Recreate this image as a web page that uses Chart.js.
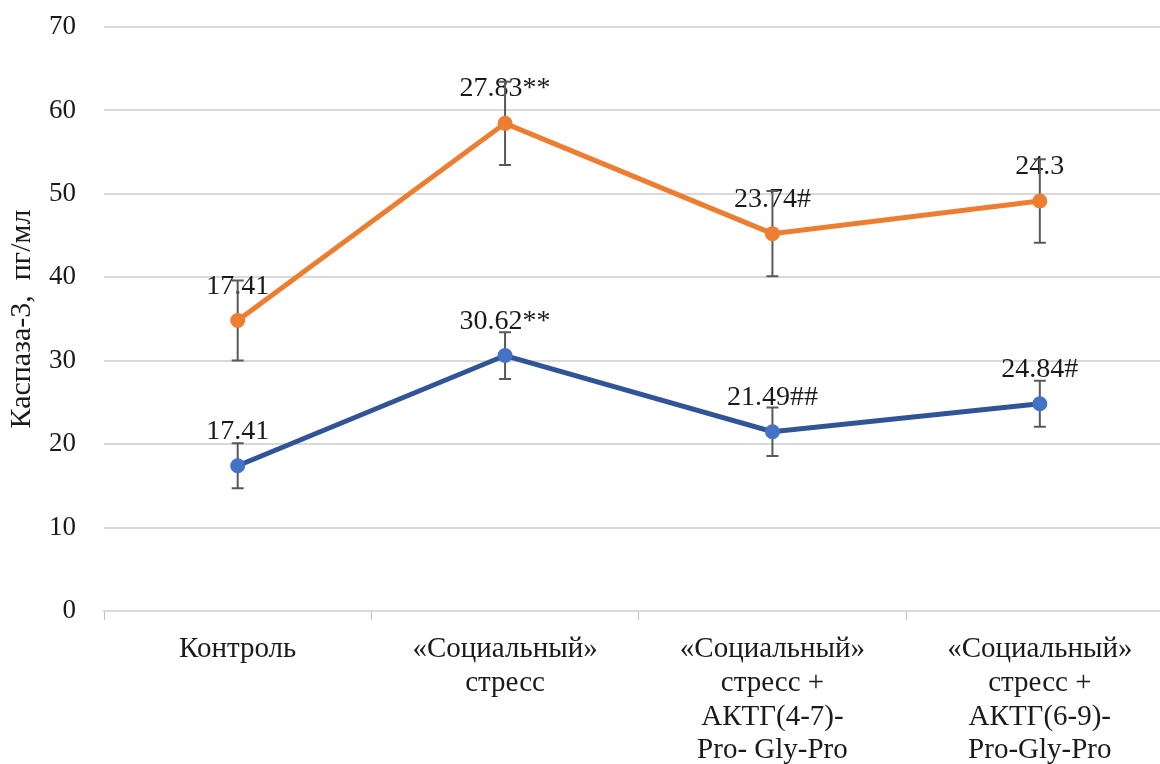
<!DOCTYPE html>
<html>
<head>
<meta charset="utf-8">
<script src="https://cdn.jsdelivr.net/npm/chart.js@4/dist/chart.umd.min.js"></script>
<style>
  html, body { margin: 0; padding: 0; background: #fff; overflow: hidden; }
  #wrap { width: 1160px; height: 764px; overflow: hidden; }
</style>
</head>
<body>
<div id="wrap"><canvas id="c" width="1181" height="764"></canvas></div>
<script>
const categories = [
  ["Контроль"],
  ["«Социальный»", "стресс"],
  ["«Социальный»", "стресс +", "АКТГ(4-7)-", "Pro- Gly-Pro"],
  ["«Социальный»", "стресс +", "АКТГ(6-9)-", "Pro-Gly-Pro"]
];
const blueValues = [17.41, 30.62, 21.49, 24.84];
const blueErrors = [2.7, 2.8, 2.9, 2.75];
const blueMarks = ["", "**", "##", "#"];
const orangeValues = [17.41, 27.83, 23.74, 24.3];
const orangeErrors = [4.8, 5.0, 5.1, 5.0];
const orangeMarks = ["", "**", "#", ""];
const yTicks = [0, 10, 20, 30, 40, 50, 60, 70];
const yTitle = "Каспаза-3,  пг/мл";

const FONT = "'Liberation Serif', 'Times New Roman', serif";
const TEXT = "#1a1a1a";

const overlayPlugin = {
  id: 'overlay',
  beforeDatasetsDraw(chart) {
    const ctx = chart.ctx;
    const ys = chart.scales.y;
    ctx.save();
    ctx.font = "28px " + FONT;
    ctx.fillStyle = TEXT;
    ctx.textAlign = "center";
    ctx.textBaseline = "alphabetic";
    chart.data.datasets.forEach((ds, di) => {
      const meta = chart.getDatasetMeta(di);
      meta.data.forEach((pt, i) => {
        ctx.fillText(String(ds.data[i]) + ds.marks[i], pt.x, pt.y - 27);
      });
    });
    ctx.restore();
    ctx.save();
    ctx.strokeStyle = "#595959";
    ctx.lineWidth = 2;
    chart.data.datasets.forEach((ds, di) => {
      const meta = chart.getDatasetMeta(di);
      meta.data.forEach((pt, i) => {
        const d = ys.getPixelForValue(0) - ys.getPixelForValue(ds.errors[i]);
        const top = pt.y - d, bot = pt.y + d;
        ctx.beginPath();
        ctx.moveTo(pt.x, top); ctx.lineTo(pt.x, bot);
        ctx.moveTo(pt.x - 6, top); ctx.lineTo(pt.x + 6, top);
        ctx.moveTo(pt.x - 6, bot); ctx.lineTo(pt.x + 6, bot);
        ctx.stroke();
      });
    });
    ctx.restore();
  }
};

new Chart(document.getElementById('c'), {
  type: 'line',
  data: {
    labels: categories,
    datasets: [
      {
        data: blueValues, errors: blueErrors, marks: blueMarks,
        borderColor: '#2F5597', backgroundColor: '#4472C4',
        pointBackgroundColor: '#4472C4', pointBorderWidth: 0,
        pointRadius: 7.5, borderWidth: 5, fill: false, tension: 0
      },
      {
        data: orangeValues, errors: orangeErrors, marks: orangeMarks,
        borderColor: '#ED7D31', backgroundColor: '#ED7D31',
        pointBackgroundColor: '#ED7D31', pointBorderWidth: 0,
        pointRadius: 7.5, borderWidth: 5, fill: false, tension: 0
      }
    ]
  },
  options: {
    responsive: false,
    animation: false,
    events: [],
    layout: { padding: { top: 27, right: 0, bottom: 0, left: 0 } },
    plugins: { legend: { display: false }, tooltip: { enabled: false } },
    scales: {
      x: {
        offset: true,
        grid: { offset: true, drawOnChartArea: false, drawTicks: true, tickLength: 9, color: '#BFBFBF', lineWidth: 1 },
        border: { display: true, color: '#D9D9D9', width: 2 },
        ticks: { font: { family: FONT, size: 29, lineHeight: 1.16 }, color: TEXT, padding: 13, maxRotation: 0, autoSkip: false },
        afterFit(s) { s.height = 153; s.paddingLeft = 0; s.paddingRight = 0; }
      },
      y: {
        stacked: true,
        min: 0, max: 70,
        afterBuildTicks(s) { s.ticks = yTicks.map(v => ({ value: v })); },
        grid: { drawTicks: false, color: '#D9D9D9', lineWidth: 2 },
        border: { display: false },
        ticks: { font: { family: FONT, size: 27 }, color: TEXT, padding: 28 },
        title: { display: true, text: yTitle, font: { family: FONT, size: 30 }, color: TEXT, padding: { top: 4, bottom: 0 } },
        afterFit(s) { s.width = 104; s.paddingTop = 0; s.paddingBottom = 0; }
      }
    }
  },
  plugins: [overlayPlugin]
});
</script>
</body>
</html>
